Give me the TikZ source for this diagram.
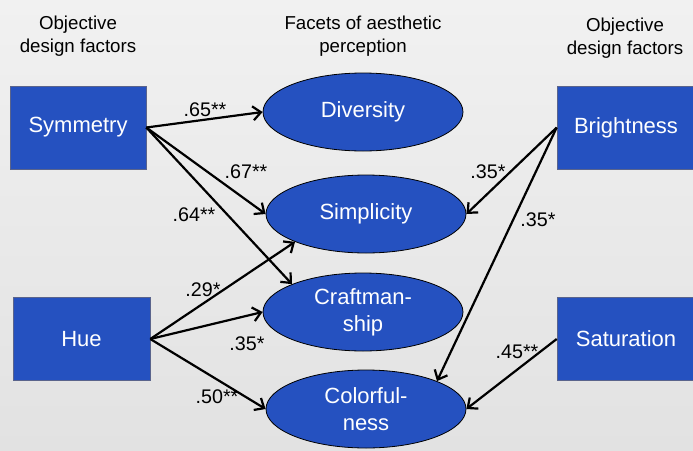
\documentclass[tikz,border=0pt]{standalone}
\usepackage{fontspec}
\setmainfont{Liberation Sans}
\usetikzlibrary{shapes.geometric,arrows.meta}
\definecolor{nodeblue}{RGB}{37,81,192}
\definecolor{boxedge}{RGB}{90,100,140}
\definecolor{bgtop}{RGB}{241,241,241}
\definecolor{bgbot}{RGB}{226,226,226}
\begin{document}
\begin{tikzpicture}[x=1pt,y=-1pt,
  factor/.style={rectangle, fill=nodeblue, draw=boxedge, line width=0.6pt,
    minimum width=136pt, minimum height=83pt, inner sep=0pt, text=white,
    font=\fontsize{22}{26}\selectfont},
  facet/.style={ellipse, fill=nodeblue, draw=black, line width=0.8pt,
    minimum width=200pt, minimum height=78pt, inner sep=0pt, text=white,
    align=center, font=\fontsize{22}{27}\selectfont},
  header/.style={align=center, inner sep=0pt, font=\fontsize{18.7}{23}\selectfont},
  coef/.style={inner sep=0pt, font=\fontsize{19.7}{22}\selectfont},
  effect/.style={line width=2.2pt, -{Straight Barb[length=8pt,width=14pt]}}]
\useasboundingbox (0,0) rectangle (693,450);
\clip (0,0) rectangle (693,450);
\shade[top color=bgtop, bottom color=bgbot] (0,0) rectangle (693,450);

% headers
\node[header] (h1) at (78,36) {Objective\\design factors};
\node[header] (h2) at (363,36) {Facets of aesthetic\\perception};
\node[header] (h3) at (625,38) {Objective\\design factors};

% factor boxes
\node[factor] (sym) at (78,127.5) {Symmetry};
\node[factor, minimum width=137pt] (hue) at (81.5,339) {Hue};
\node[factor, minimum width=138pt] (bri) at (626,127.5) {Brightness};
\node[factor, minimum width=138pt] (sat) at (626,339) {Saturation};

% facets
\node[facet] (div) at (363,112) {Diversity};
\node[facet] (simp) at (366,214) {Simplicity};
\node[facet] (craft) at (363,312) {Craftman-\\ship};
\node[facet] (color) at (366,409) {Colorful-\\ness};

% effects
\draw[effect] (sym.east) -- (div.west);
\draw[effect] (sym.east) -- (simp.west);
\draw[effect] (sym.east) -- (craft.north west);
\draw[effect] (hue.east) -- (simp.south west);
\draw[effect] (hue.east) -- (craft.west);
\draw[effect] (hue.east) -- (color.west);
\draw[effect] (bri.west) -- (simp.east);
\draw[effect] (bri.west) -- (color.north east);
\draw[effect] (sat.west) -- (color.east);

% coefficients
\node[coef] (l1) at (205,110) {.65**};
\node[coef] (l2) at (246,172) {.67**};
\node[coef] (l3) at (194,215) {.64**};
\node[coef] (l4) at (203,290) {.29*};
\node[coef] (l5) at (247,344) {.35*};
\node[coef] (l6) at (217,397) {.50**};
\node[coef] (l7) at (488,172) {.35*};
\node[coef] (l8) at (538,220) {.35*};
\node[coef] (l9) at (517,352) {.45**};
\end{tikzpicture}
\end{document}
